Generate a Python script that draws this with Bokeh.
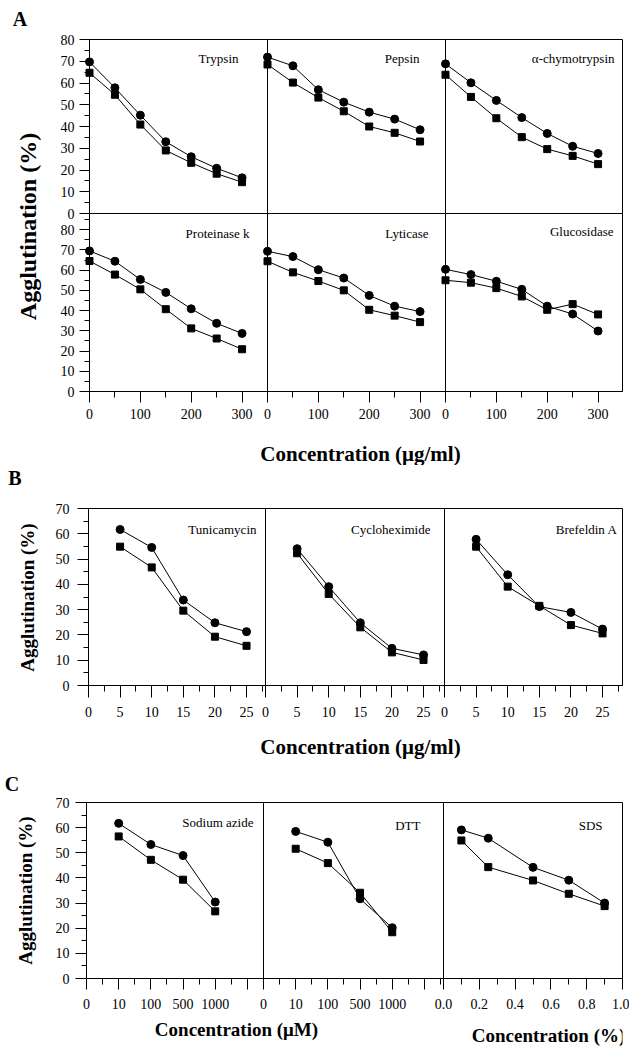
import math
from bokeh.plotting import figure
from bokeh.models import Range1d, FixedTicker, LinearAxis, Label, Span
from bokeh.layouts import column, row
from bokeh.embed import file_html
from bokeh.resources import INLINE

# ---------------- data ----------------
# Section A: concentration (ug/ml)
conc_A = [0, 50, 100, 150, 200, 250, 300]
trypsin_circ = [69.7, 57.8, 45.2, 33.0, 26.1, 20.8, 16.4]
trypsin_sq = [64.7, 54.6, 40.9, 29.0, 23.3, 18.3, 14.4]
pepsin_circ = [71.9, 67.9, 56.9, 51.2, 46.6, 43.4, 38.5]
pepsin_sq = [68.5, 60.2, 53.3, 47.0, 40.0, 37.1, 33.1]
chymo_circ = [68.8, 60.1, 52.0, 44.1, 36.8, 30.9, 27.6]
chymo_sq = [63.8, 53.6, 43.8, 35.1, 29.6, 26.5, 22.7]
protk_circ = [69.5, 64.4, 55.4, 49.0, 40.9, 33.7, 28.7]
protk_sq = [64.5, 57.8, 50.5, 40.7, 31.2, 26.2, 20.9]
lytic_circ = [69.3, 66.7, 60.2, 56.1, 47.5, 42.2, 39.5]
lytic_sq = [64.4, 58.9, 54.6, 50.0, 40.4, 37.5, 34.3]
gluco_circ = [60.4, 57.8, 54.5, 50.5, 42.2, 38.3, 29.9]
gluco_sq = [55.0, 53.8, 51.1, 47.0, 40.4, 43.2, 38.1]

# Section B: concentration (ug/ml)
conc_B = [5, 10, 15, 20, 25]
tunica_circ = [61.7, 54.6, 33.8, 24.8, 21.3]
tunica_sq = [54.9, 46.7, 29.6, 19.3, 15.7]
cyclo_circ = [54.1, 39.1, 24.8, 14.7, 12.1]
cyclo_sq = [52.3, 36.2, 23.0, 13.1, 10.1]
brefa_circ = [57.8, 43.8, 31.2, 28.9, 22.3]
brefa_sq = [54.9, 39.1, 31.5, 23.9, 20.6]

# Section C
conc_uM = ["10", "100", "500", "1000"]
azide_circ = [61.7, 53.3, 48.9, 30.4]
azide_sq = [56.5, 47.2, 39.3, 26.7]
dtt_circ = [58.5, 54.2, 31.7, 20.2]
dtt_sq = [51.6, 45.9, 34.1, 18.4]
conc_pct = [0.1, 0.25, 0.5, 0.7, 0.9]
sds_circ = [59.1, 55.8, 44.2, 39.1, 30.0]
sds_sq = [54.9, 44.3, 39.0, 33.7, 28.8]

# tick values / labels
ticks_A_x = [0, 100, 200, 300]
minor_A_x = [50, 150, 250, 350]
ticks_A_y = [0, 10, 20, 30, 40, 50, 60, 70, 80]
ticks_B_x = [0, 5, 10, 15, 20, 25]
minor_B_x = [2.5, 7.5, 12.5, 17.5, 22.5, 27.5]
ticks_BC_y = [0, 10, 20, 30, 40, 50, 60, 70]
labels_uM = ["0"] + conc_uM + [""]
ticks_pct = [0.0, 0.2, 0.4, 0.6, 0.8, 1.0]
minor_pct = [0.1, 0.3, 0.5, 0.7, 0.9]

# ---------------- styling ----------------
LEFT_W = 48          # width of the left strip (section letter + y title)
PANEL_W = 581        # width of the panel figures
FONT = "Liberation Serif"


def blank_fig(width, height, left=0, right=0):
    # frame spans the canvas minus the given side borders; ranges in frame pixels
    fw = width - left - right
    p = figure(width=width, height=height,
               x_range=Range1d(0, fw), y_range=Range1d(height, 0),
               x_axis_location=None, y_axis_location=None,
               toolbar_location=None, output_backend="svg", min_border=0,
               min_border_left=left, min_border_right=right)
    p.outline_line_color = None
    p.grid.visible = False
    p.background_fill_color = "white"
    p.border_fill_color = "white"
    return p


def make_section(top_screen, height, left, right, top, bottom):
    fw = PANEL_W - left - right
    fh = height - top - bottom
    p = figure(width=PANEL_W, height=height,
               x_range=Range1d(0, fw), y_range=Range1d(0, fh),
               x_axis_location=None, y_axis_location=None,
               toolbar_location=None, output_backend="svg",
               min_border_left=left, min_border_right=right,
               min_border_top=top, min_border_bottom=bottom)
    p.grid.visible = False
    p.outline_line_color = "black"
    p.outline_line_width = 1
    p.background_fill_color = "white"
    p.border_fill_color = "white"
    geo = dict(fw=fw, fh=fh, fx0=LEFT_W + left, fy1=top_screen + top + fh,
               left=left, right=right)
    return p, geo


def data_range(offset_px, ppu, total_px):
    return Range1d(-offset_px / ppu, (total_px - offset_px) / ppu)


def add_axis(p, side, segments, tick_out, minor_out, standoff, size):
    maj, mnr, ovr = [], [], {}
    for off, ppu, mv, ml, nv in segments:
        for v, lab in zip(mv, ml):
            t = round(off + v * ppu, 4)
            maj.append(t)
            ovr[t] = lab
        for v in nv:
            mnr.append(round(off + v * ppu, 4))
    ax = LinearAxis(ticker=FixedTicker(ticks=maj, minor_ticks=mnr),
                    major_label_overrides=ovr)
    ax.axis_line_color = "black"
    ax.axis_line_width = 1
    ax.major_tick_line_color = "black"
    ax.minor_tick_line_color = "black"
    ax.major_tick_in = 0
    ax.minor_tick_in = 0
    ax.major_tick_out = tick_out
    ax.minor_tick_out = minor_out
    ax.major_label_standoff = standoff
    ax.major_label_text_font = FONT
    ax.major_label_text_font_size = size
    ax.major_label_text_color = "black"
    p.add_layout(ax, side)


def put_in(p, geo, sx, sy, text, size, align="right"):
    # text inside a panel frame, given in page pixels
    p.add_layout(Label(x=sx - geo["fx0"], y=geo["fy1"] - sy, text=text,
                       text_font=FONT, text_font_size=size,
                       text_align=align, text_baseline="middle", text_color="black"))


def put_blank(p, x0, y0, sx, sy, text, size, angle=0.0):
    p.add_layout(Label(x=sx - x0, y=sy - y0, text=text,
                       text_font=FONT, text_font_size=size, text_font_style="bold",
                       text_align="center", text_baseline="middle", angle=angle,
                       text_color="black"))


def series(p, xname, yname, xs, ys, marker, size):
    p.line(xs, ys, line_color="black", line_width=1,
           x_range_name=xname, y_range_name=yname)
    p.scatter(xs, ys, marker=marker, size=size, fill_color="black",
              line_color="black", x_range_name=xname, y_range_name=yname,
              level="overlay")


def dividers(p, xs=(), ys=()):
    for x in xs:
        p.add_layout(Span(location=x, dimension="height", line_color="black", line_width=1))
    for y in ys:
        p.add_layout(Span(location=y, dimension="width", line_color="black", line_width=1))


# ================= Section A (page y 0..465) =================
pA, gA = make_section(0, 431, 41, 7, 39, 40)
A_lefts = [0, 178, 356]
A_ppx = 178 / 350
A_bot = (0, 178 / 88)
A_top = (178, 174 / 80)
pA.extra_x_ranges = {f"x{i}": data_range(l, A_ppx, gA["fw"]) for i, l in enumerate(A_lefts)}
pA.extra_y_ranges = {"top": data_range(A_top[0], A_top[1], gA["fh"]),
                     "bot": data_range(A_bot[0], A_bot[1], gA["fh"])}
dividers(pA, xs=A_lefts[1:], ys=[A_top[0]])

for i, (c, s) in enumerate([(trypsin_circ, trypsin_sq), (pepsin_circ, pepsin_sq), (chymo_circ, chymo_sq)]):
    series(pA, f"x{i}", "top", conc_A, s, "square", 7)
    series(pA, f"x{i}", "top", conc_A, c, "circle", 8)
for i, (c, s) in enumerate([(protk_circ, protk_sq), (lytic_circ, lytic_sq), (gluco_circ, gluco_sq)]):
    series(pA, f"x{i}", "bot", conc_A, s, "square", 7)
    series(pA, f"x{i}", "bot", conc_A, c, "circle", 8)

add_axis(pA, "below",
         [(l, A_ppx, ticks_A_x, [str(v) for v in ticks_A_x], minor_A_x) for l in A_lefts],
         11, 6, 6, "14px")
add_axis(pA, "left",
         [(A_bot[0], A_bot[1], ticks_A_y, [str(v) for v in ticks_A_y], [v + 5 for v in ticks_A_y]),
          (A_top[0], A_top[1], ticks_A_y, [str(v) for v in ticks_A_y], [v + 5 for v in ticks_A_y[:-1]])],
         10, 5, 5, "14px")

for sx, sy, t in [(238, 58, "Trypsin"), (419, 58, "Pepsin"), (614, 58, "\u03b1-chymotrypsin"),
                  (249, 233, "Proteinase k"), (428, 233, "Lyticase"), (613, 231, "Glucosidase")]:
    put_in(pA, gA, sx, sy, t, "13px")

leftA = blank_fig(LEFT_W, 465)
put_blank(leftA, 0, 0, 19.5, 18, "A", "20px")
put_blank(leftA, 0, 0, 27, 226, "Agglutination (%)", "24px", angle=math.pi / 2)
xtA = blank_fig(PANEL_W, 34, gA["left"], gA["right"])
put_blank(xtA, gA["fx0"], 431, 360, 453, "Concentration (\u03bcg/ml)", "21px")

# ================= Section B (page y 465..760) =================
pB, gB = make_section(465, 260, 40, 7, 43, 40)
B_lefts = [0, 177, 356]
B_ppx = 177 / 28
B_ppy = 177 / 70
pB.extra_x_ranges = {f"x{i}": data_range(l, B_ppx, gB["fw"]) for i, l in enumerate(B_lefts)}
pB.extra_y_ranges = {"v": data_range(0, B_ppy, gB["fh"])}
dividers(pB, xs=B_lefts[1:])
for i, (c, s) in enumerate([(tunica_circ, tunica_sq), (cyclo_circ, cyclo_sq), (brefa_circ, brefa_sq)]):
    series(pB, f"x{i}", "v", conc_B, s, "square", 7)
    series(pB, f"x{i}", "v", conc_B, c, "circle", 8)
add_axis(pB, "below",
         [(l, B_ppx, ticks_B_x, [str(v) for v in ticks_B_x], minor_B_x) for l in B_lefts],
         12, 6, 9, "14px")
add_axis(pB, "left",
         [(0, B_ppy, ticks_BC_y, [str(v) for v in ticks_BC_y], [v + 5 for v in ticks_BC_y[:-1]])],
         11, 5, 8, "14px")
for sx, sy, t in [(256, 529, "Tunicamycin"), (430, 529, "Cycloheximide"), (617, 529, "Brefeldin A")]:
    put_in(pB, gB, sx, sy, t, "13px")

leftB = blank_fig(LEFT_W, 295)
put_blank(leftB, 0, 465, 14.5, 477, "B", "20px")
put_blank(leftB, 0, 465, 27, 597, "Agglutination (%)", "19px", angle=math.pi / 2)
xtB = blank_fig(PANEL_W, 35, gB["left"], gB["right"])
put_blank(xtB, gB["fx0"], 725, 360, 746, "Concentration (\u03bcg/ml)", "21px")

# ================= Section C (page y 760..1047) =================
pC, gC = make_section(760, 255, 38, 7, 42, 37)
C_lefts = [0, 177, 357]
C_ppx_uM = 177 / 5.5
C_ppx_pct = 179 / 1.0
C_ppy = 176 / 70
pC.extra_x_ranges = {"x0": data_range(C_lefts[0], C_ppx_uM, gC["fw"]),
                     "x1": data_range(C_lefts[1], C_ppx_uM, gC["fw"]),
                     "x2": data_range(C_lefts[2], C_ppx_pct, gC["fw"])}
pC.extra_y_ranges = {"v": data_range(0, C_ppy, gC["fh"])}
dividers(pC, xs=C_lefts[1:])
pos_uM = [i + 1 for i in range(len(conc_uM))]
series(pC, "x0", "v", pos_uM, azide_sq, "square", 7)
series(pC, "x0", "v", pos_uM, azide_circ, "circle", 8)
series(pC, "x1", "v", pos_uM, dtt_sq, "square", 7)
series(pC, "x1", "v", pos_uM, dtt_circ, "circle", 8)
series(pC, "x2", "v", conc_pct, sds_sq, "square", 7)
series(pC, "x2", "v", conc_pct, sds_circ, "circle", 8)
uM_major = list(range(len(labels_uM)))
uM_minor = [v + 0.5 for v in uM_major]
add_axis(pC, "below",
         [(C_lefts[0], C_ppx_uM, uM_major, labels_uM, uM_minor),
          (C_lefts[1], C_ppx_uM, uM_major, labels_uM, uM_minor),
          (C_lefts[2], C_ppx_pct, ticks_pct, [f"{v:.1f}" for v in ticks_pct], minor_pct)],
         11, 6, 9, "14px")
add_axis(pC, "left",
         [(0, C_ppy, ticks_BC_y, [str(v) for v in ticks_BC_y], [v + 5 for v in ticks_BC_y[:-1]])],
         11, 5, 6, "14px")
for sx, sy, t in [(253, 822, "Sodium azide"), (420, 825, "DTT"), (602, 825, "SDS")]:
    put_in(pC, gC, sx, sy, t, "13px")

leftC = blank_fig(LEFT_W, 287)
put_blank(leftC, 0, 760, 11.5, 783, "C", "20px")
put_blank(leftC, 0, 760, 24.5, 890, "Agglutination (%)", "19px", angle=math.pi / 2)
xtC = blank_fig(PANEL_W, 32, gC["left"], gC["right"])
put_blank(xtC, gC["fx0"], 1015, 236, 1029, "Concentration (\u03bcM)", "19px")
put_blank(xtC, gC["fx0"], 1015, 548, 1035, "Concentration (%)", "19px")

layout = column(
    row(leftA, column(pA, xtA, spacing=0), spacing=0),
    row(leftB, column(pB, xtB, spacing=0), spacing=0),
    row(leftC, column(pC, xtC, spacing=0), spacing=0),
    spacing=0)
open("out.html", "w").write(file_html(layout, INLINE, "Agglutination"))
